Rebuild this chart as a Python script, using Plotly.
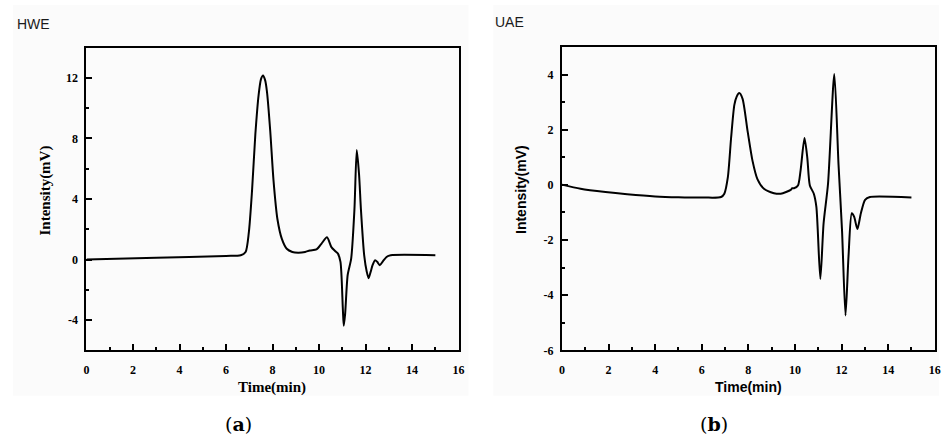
import plotly.graph_objects as go

W, H = 945, 446

# ---- data ----
hwe_time = [0, 3, 6, 6.63, 6.84, 6.98, 7.12, 7.26, 7.4, 7.5, 7.59, 7.68, 7.76, 7.9, 8.04, 8.21,
            8.4, 8.61, 8.85, 9.1, 9.4, 9.6, 9.89, 10.1, 10.34, 10.53, 10.7, 10.81, 10.92, 11.02,
            11.06, 11.12, 11.23, 11.38, 11.52, 11.62, 11.72, 11.8, 11.94, 12.05, 12.13, 12.22,
            12.3, 12.41, 12.5, 12.61, 12.75, 12.9, 13.08, 15.0]
hwe_intensity = [0, 0.12, 0.24, 0.28, 0.5, 1.79, 4.6, 8.27, 10.86, 11.9, 12.16, 11.85, 11.08, 8.49,
                 5.25, 2.66, 1.36, 0.71, 0.5, 0.45, 0.5, 0.6, 0.67, 1.04, 1.47, 0.82, 0.55, 0.39,
                 -0.15, -3.18, -4.37, -3.6, -1.02, 0.06, 3.3, 7.23, 5.6, 3.3, 0.28, -0.8, -1.23,
                 -0.8, -0.37, -0.05, -0.15, -0.37, -0.1, 0.17, 0.28, 0.28]

uae_time = [0, 0.8, 1.87, 2.8, 4.0, 5.0, 6.12, 6.83, 6.97, 7.12, 7.26, 7.4, 7.5, 7.61, 7.75, 7.97,
            8.18, 8.39, 8.67, 9.1, 9.39, 9.82, 9.88, 9.96, 10.13, 10.24, 10.41, 10.53, 10.64,
            10.81, 10.92, 11.09, 11.23, 11.42, 11.69, 11.87, 12.02, 12.17, 12.3, 12.44, 12.54,
            12.68, 12.83, 13.01, 13.22, 15.0]
uae_intensity = [0.01, -0.14, -0.26, -0.34, -0.42, -0.45, -0.46, -0.44, -0.32, 0.27, 1.7, 2.9, 3.2,
                 3.33, 3.13, 1.94, 0.87, 0.21, -0.14, -0.3, -0.32, -0.18, -0.12, -0.12, -0.02,
                 0.51, 1.7, 0.99, -0.02, -0.32, -0.8, -3.41, -1.39, 0.04, 4.02, 0.75, -1.63,
                 -4.73, -2.58, -1.03, -1.15, -1.6, -1.03, -0.54, -0.44, -0.46]

x_ticks = [0, 2, 4, 6, 8, 10, 12, 14, 16]
hwe_y_ticks = [-4, 0, 4, 8, 12]
uae_y_ticks = [-6, -4, -2, 0, 2, 4]

panel_titles = ["HWE", "UAE"]
panel_labels = ["(<b>a</b>)", "(<b>b</b>)"]
x_title = "Time(min)"
y_title = "Intensity(mV)"


def px(x):
    return x / W


def py(y):
    return 1 - y / H


def labels(vals):
    return ["<b>%d</b>" % v for v in vals]


fig = go.Figure()
fig.add_trace(go.Scatter(x=hwe_time, y=hwe_intensity, mode="lines",
                         line=dict(color="black", width=2, shape="spline", smoothing=0.7),
                         xaxis="x", yaxis="y", showlegend=False))
fig.add_trace(go.Scatter(x=uae_time, y=uae_intensity, mode="lines",
                         line=dict(color="black", width=2, shape="spline", smoothing=0.7),
                         xaxis="x2", yaxis="y2", showlegend=False))

tickfont = dict(family="Liberation Serif", size=12, color="black")
common = dict(showgrid=False, zeroline=False, showline=True, linecolor="black", linewidth=2,
              mirror=True, ticks="inside", ticklen=6, tickwidth=2, tickcolor="black",
              tickfont=tickfont, tickmode="array")

xcommon = dict(common, range=[0, 16], tickvals=x_ticks, ticktext=labels(x_ticks),
               ticklabelstandoff=7,
               minor=dict(ticks="inside", ticklen=3, tickwidth=2, tickcolor="black",
                          tickmode="linear", tick0=0, dtick=1))

fig.update_layout(
    width=W, height=H, margin=dict(l=0, r=0, t=0, b=0),
    paper_bgcolor="white", plot_bgcolor="white",
    xaxis=dict(xcommon, domain=[px(84.3), px(460)], anchor="y"),
    yaxis=dict(common, domain=[py(356), py(48.3)], range=[-6, 14],
               tickvals=hwe_y_ticks, ticktext=labels(hwe_y_ticks),
               ticklabelstandoff=4, anchor="x",
               minor=dict(ticks="inside", ticklen=3, tickwidth=2, tickcolor="black",
                          tickmode="linear", tick0=0, dtick=2)),
    xaxis2=dict(xcommon, domain=[px(564.3), px(940.7)], anchor="y2"),
    yaxis2=dict(common, domain=[py(356), py(47.7)], range=[-6, 5],
                tickvals=uae_y_ticks, ticktext=labels(uae_y_ticks),
                ticklabelstandoff=4, anchor="x2",
                minor=dict(ticks="inside", ticklen=3, tickwidth=2, tickcolor="black",
                           tickmode="linear", tick0=0, dtick=1)),
    shapes=[
        dict(type="rect", xref="paper", yref="paper", x0=px(10), x1=px(470), y0=py(402), y1=py(5),
             fillcolor="#fbfbfb", line=dict(width=0), layer="below"),
        dict(type="rect", xref="paper", yref="paper", x0=px(495), x1=px(945), y0=py(402), y1=py(5),
             fillcolor="#fbfbfb", line=dict(width=0), layer="below"),
    ],
)

ann = []
ann.append(dict(x=px(12), y=py(24), text=panel_titles[0], xanchor="left", yanchor="middle",
                font=dict(family="Liberation Sans", size=14, color="#1a1a1a")))
ann.append(dict(x=px(495), y=py(22), text=panel_titles[1], xanchor="left", yanchor="middle",
                font=dict(family="Liberation Sans", size=14, color="#1a1a1a")))
ann.append(dict(x=px(43), y=py(194), text="<b>%s</b>" % y_title, textangle=-90,
                xanchor="center", yanchor="middle",
                font=dict(family="Liberation Serif", size=15, color="black")))
ann.append(dict(x=px(272), y=py(394), text="<b>%s</b>" % x_title, xanchor="center", yanchor="middle",
                font=dict(family="Liberation Serif", size=15, color="black")))
ann.append(dict(x=px(523), y=py(193), text="<b>%s</b>" % y_title, textangle=-90,
                xanchor="center", yanchor="middle",
                font=dict(family="Liberation Sans", size=14, color="black")))
ann.append(dict(x=px(753), y=py(393), text="<b>%s</b>" % x_title, xanchor="center", yanchor="middle",
                font=dict(family="Liberation Sans", size=14, color="black")))
ann.append(dict(x=px(238), y=py(431), text=panel_labels[0], xanchor="center", yanchor="middle",
                font=dict(family="DejaVu Serif", size=19, color="black")))
ann.append(dict(x=px(718), y=py(431), text=panel_labels[1], xanchor="center", yanchor="middle",
                font=dict(family="DejaVu Serif", size=19, color="black")))
for a in ann:
    a.update(xref="paper", yref="paper", showarrow=False)
fig.update_layout(annotations=ann)

fig.write_html("out.html")
